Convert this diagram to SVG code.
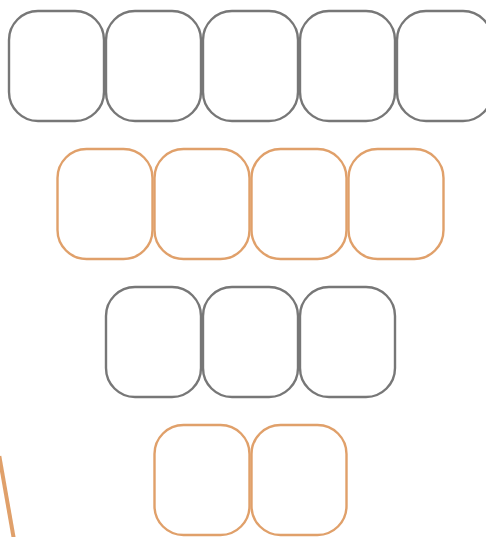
<svg xmlns="http://www.w3.org/2000/svg" width="486" height="537" viewBox="0 0 486 537">
<style>
.g{fill:#fff;stroke:#777;stroke-width:2.4}
.o{fill:#fff;stroke:#e0a06a;stroke-width:2.4}
.c{fill:none;stroke:#e0a06a;stroke-width:4}
</style>
<rect width="486" height="537" fill="#fff"/>
<g id="connectors"><line class="c" x1="-0.7" y1="456" x2="14.2" y2="541"/></g>
<g id="n1"><rect class="g" x="9" y="11" width="95" height="110" rx="29"/></g>
<g id="n2"><rect class="g" x="106" y="11" width="95" height="110" rx="29"/></g>
<g id="n3"><rect class="g" x="203" y="11" width="95" height="110" rx="29"/></g>
<g id="n4"><rect class="g" x="300" y="11" width="95" height="110" rx="29"/></g>
<g id="n5"><rect class="g" x="397" y="11" width="95" height="110" rx="29"/></g>
<g id="n6"><rect class="o" x="57.5" y="149" width="95" height="110" rx="29"/></g>
<g id="n7"><rect class="o" x="154.5" y="149" width="95" height="110" rx="29"/></g>
<g id="n8"><rect class="o" x="251.5" y="149" width="95" height="110" rx="29"/></g>
<g id="n9"><rect class="o" x="348.5" y="149" width="95" height="110" rx="29"/></g>
<g id="n10"><rect class="g" x="106" y="287" width="95" height="110" rx="29"/></g>
<g id="n11"><rect class="g" x="203" y="287" width="95" height="110" rx="29"/></g>
<g id="n12"><rect class="g" x="300" y="287" width="95" height="110" rx="29"/></g>
<g id="n13"><rect class="o" x="154.5" y="425" width="95" height="110" rx="29"/></g>
<g id="n14"><rect class="o" x="251.5" y="425" width="95" height="110" rx="29"/></g>
</svg>
